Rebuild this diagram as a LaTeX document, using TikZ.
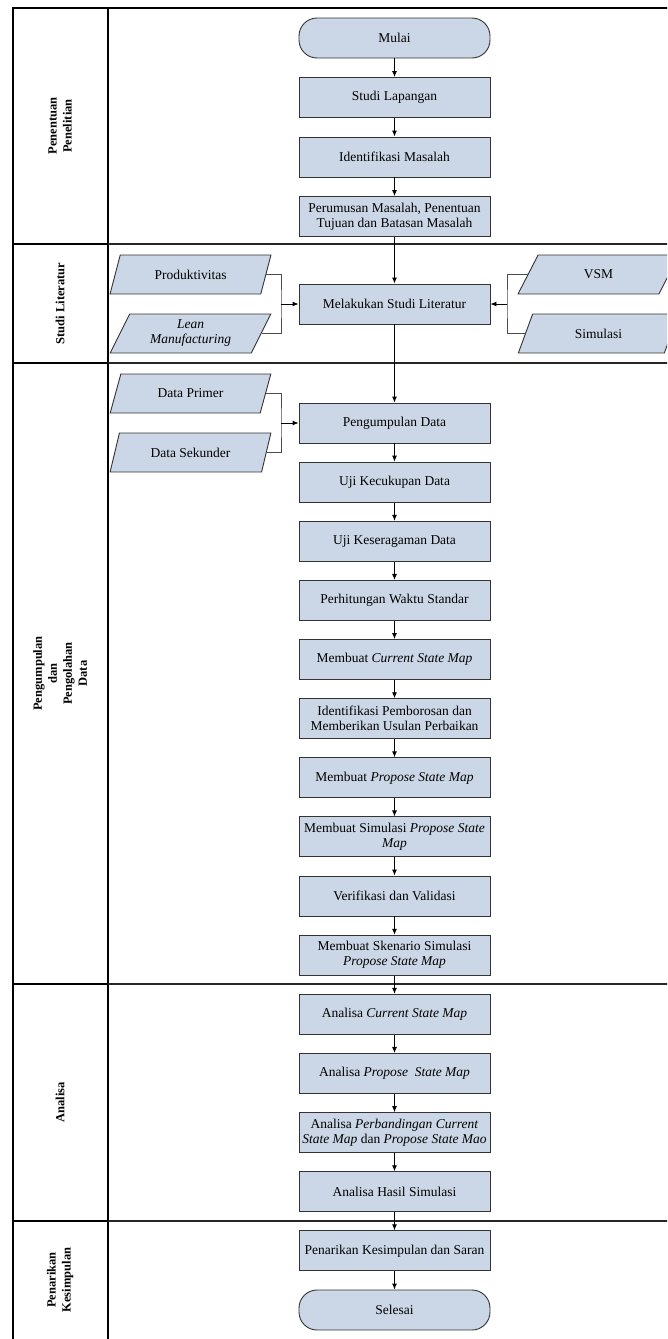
\documentclass[tikz,border=0pt]{standalone}
\usepackage{fontspec}
\setmainfont{Liberation Serif}
\usetikzlibrary{shapes.geometric,arrows.meta}
\definecolor{boxfill}{RGB}{203,215,230}
\begin{document}
\begin{tikzpicture}[x=1pt,y=-1pt,
  boxtext/.style={font=\fontsize{13.5}{15}\selectfont},
  process/.style={boxtext, draw=black!80, fill=boxfill, line width=0.9pt,
    minimum width=191pt, minimum height=40pt, inner sep=1pt, align=center},
  terminal/.style={process, rounded corners=18pt},
  inputbox/.style={boxtext, trapezium, trapezium left angle=65, trapezium right angle=115,
    trapezium stretches=true, draw=black!80, fill=boxfill, line width=0.9pt,
    minimum width=161pt, minimum height=39pt, inner sep=1pt, align=center},
  flow/.style={draw=black, line width=0.9pt, -{Latex[length=6pt,width=5pt]}},
  feed/.style={draw=black!70, line width=0.9pt},
  lanetext/.style={font=\bfseries\fontsize{12.5}{15}\selectfont, rotate=90, align=center},
  lanerule/.style={draw=black!85, line width=1.2pt},
  frame/.style={draw=black, line width=2pt}
]
\useasboundingbox (0,0) rectangle (667,1339);
\clip (0,0) rectangle (667,1339);

% swimlane frame
\draw[frame] (13,1345) -- (13,8) -- (680,8);
\draw[frame] (108,8) -- (108,1345);
\foreach \yy in {244,363,984,1221}{
  \draw[frame] (13,\yy) -- (108,\yy);
  \draw[lanerule] (108,\yy) -- (680,\yy);
}

% lane titles
\node[lanetext] (l1) at (60,126) {Penentuan\\Penelitian};
\node[lanetext] (l2) at (60,303.5) {Studi Literatur};
\node[lanetext] (l3) at (60,673.5) {Pengumpulan\\dan\\Pengolahan\\Data};
\node[lanetext] (l4) at (60,1102.5) {Analisa};
\node[lanetext] (l5) at (60,1280) {Penarikan\\Kesimpulan};

% main flow
\node[terminal] (mulai) at (394.5,38) {Mulai};
\node[process] (studi) at (394.5,97.5) {Studi Lapangan};
\node[process] (ident) at (394.5,157) {Identifikasi Masalah};
\node[process] (rumus) at (394.5,216.5) {Perumusan Masalah, Penentuan\\Tujuan dan Batasan Masalah};
\node[process] (lit) at (394.5,304) {Melakukan Studi Literatur};
\node[process] (kumpul) at (394.5,423) {Pengumpulan Data};
\node[process] (cukup) at (394.5,482.1) {Uji Kecukupan Data};
\node[process] (seragam) at (394.5,541.3) {Uji Keseragaman Data};
\node[process] (waktu) at (394.5,600.4) {Perhitungan Waktu Standar};
\node[process] (csm) at (394.5,659.5) {Membuat \textit{Current State Map}};
\node[process] (boros) at (394.5,718.7) {Identifikasi Pemborosan dan\\Memberikan Usulan Perbaikan};
\node[process] (psm) at (394.5,777.8) {Membuat \textit{Propose State Map}};
\node[process] (simpsm) at (394.5,836.9) {Membuat Simulasi \textit{Propose State}\\\textit{Map}};
\node[process] (verif) at (394.5,896) {Verifikasi dan Validasi};
\node[process] (skenario) at (394.5,955.2) {Membuat Skenario Simulasi\\\textit{Propose State Map}};
\node[process] (acsm) at (394.5,1014.3) {Analisa \textit{Current State Map}};
\node[process] (apsm) at (394.5,1073.4) {Analisa \textit{Propose\ \ State Map}};
\node[process] (banding) at (394.5,1132.6) {Analisa \textit{Perbandingan Current}\\\textit{State Map} dan \textit{Propose State Mao}};
\node[process] (hasil) at (394.5,1191.7) {Analisa Hasil Simulasi};
\node[process] (tarik) at (394.5,1250.8) {Penarikan Kesimpulan dan Saran};
\node[terminal] (selesai) at (394.5,1310) {Selesai};

% inputs
\node[inputbox] (prod) at (190.5,274.5) {Produktivitas};
\node[inputbox] (lean) at (190.5,333.5) {\textit{Lean}\\\textit{Manufacturing}};
\node[inputbox] (vsm) at (598.5,274.5) {VSM};
\node[inputbox] (simul) at (598.5,333.5) {Simulasi};
\node[inputbox] (primer) at (190.5,393.5) {Data Primer};
\node[inputbox] (sekunder) at (190.5,452.5) {Data Sekunder};

% sequence arrows
\foreach \a/\b in {mulai/studi, studi/ident, ident/rumus, rumus/lit, lit/kumpul,
  kumpul/cukup, cukup/seragam, seragam/waktu, waktu/csm, csm/boros, boros/psm,
  psm/simpsm, simpsm/verif, verif/skenario, skenario/acsm, acsm/apsm,
  apsm/banding, banding/hasil, hasil/tarik, tarik/selesai}
  \draw[flow] (\a) -- (\b);

% input joins
\coordinate (jl) at (281,304);
\coordinate (jr) at (507,304);
\coordinate (jd) at (281,423);
\draw[feed] (prod.east) -| (jl) |- (lean.east);
\draw[flow] (jl) -- (lit.west);
\draw[feed] (vsm.west) -| (jr) |- (simul.west);
\draw[flow] (jr) -- (lit.east);
\draw[feed] (primer.east) -| (jd) |- (sekunder.east);
\draw[flow] (jd) -- (kumpul.west);
\end{tikzpicture}
\end{document}
